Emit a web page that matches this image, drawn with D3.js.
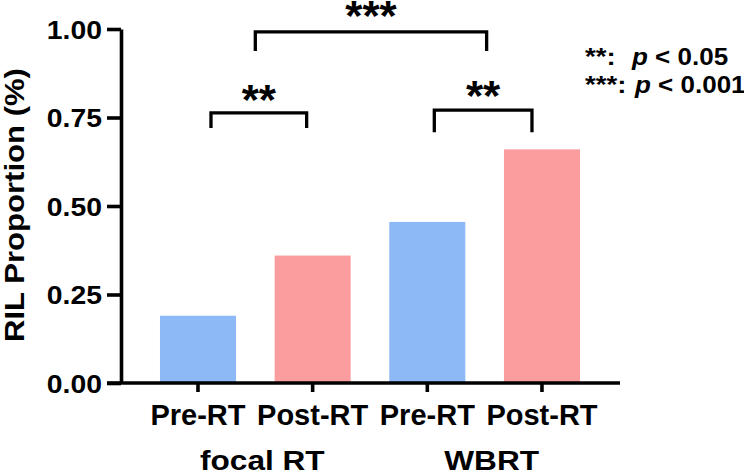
<!DOCTYPE html>
<html><head><meta charset="utf-8">
<script src="https://cdn.jsdelivr.net/npm/d3@7"></script>
<style>
html,body{margin:0;padding:0;background:#fff;}
text{font-family:"Liberation Sans",Arial,sans-serif;font-weight:bold;fill:#000;}
</style></head>
<body><svg id="c" width="744" height="475"></svg>
<script>
const categories = ["Pre-RT","Post-RT","Pre-RT ","Post-RT "];
const tickLabels = ["Pre-RT","Post-RT","Pre-RT","Post-RT"];
const groups = ["focal RT","WBRT"];
const values = [0.19, 0.36, 0.455, 0.66];
const barColors = ["#8dbaf6","#fb9c9e","#8dbaf6","#fb9c9e"];
const yTicks = [0, 0.25, 0.5, 0.75, 1.0];
// significance brackets (bar positions as category indices, heights in data units)
const bracketFrom = [0, 2, 0.5];
const bracketTo = [1, 3, 2.5];
const bracketLevel = [0.763, 0.771, 0.992];
const bracketLeg = [0.72, 0.708, 0.938];
const bracketLabel = ["**","**","***"];
const legendStars = ["**:","***:"];
const legendP = ["p < 0.05","p < 0.001"];

const svg = d3.select("#c");
const y = d3.scaleLinear().domain([0,1]).range([383,29]);
const x = d3.scaleBand().domain(categories).range([140.65,599.3]).paddingInner(0.337).paddingOuter(0.1685);
const cx = i => x(categories[0]) + x.bandwidth()/2 + i*x.step();

function stretch(sel, f){
  sel.each(function(){
    const L = this.getComputedTextLength();
    d3.select(this).attr("textLength", L*f).attr("lengthAdjust","spacingAndGlyphs");
  });
}

// bars
svg.selectAll("rect.bar").data(values).join("rect").attr("class","bar")
  .attr("x",(d,i)=>x(categories[i])).attr("width",x.bandwidth())
  .attr("y",d=>y(d)).attr("height",d=>y(0)-y(d))
  .attr("fill",(d,i)=>barColors[i]);

// y axis
const yAxis = d3.axisLeft(y).tickValues(yTicks).tickFormat(d3.format(".2f")).tickSize(14).tickSizeOuter(0).tickPadding(5);
const gy = svg.append("g").attr("transform","translate(121,0)").call(yAxis);
gy.select(".domain").attr("stroke","#000").attr("stroke-width",3.6);
gy.selectAll(".tick line").attr("stroke","#000").attr("stroke-width",3.6);
gy.selectAll(".tick text").style("font-size","26px").attr("dy","0.36em").call(stretch,1.09);

// x axis
const xAxis = d3.axisBottom(x).tickSize(9).tickSizeOuter(0).tickFormat((d,i)=>tickLabels[i]);
const gx = svg.append("g").attr("transform","translate(0,383)").call(xAxis);
gx.select(".domain").attr("d","M107,0H620").attr("stroke","#000").attr("stroke-width",3.6);
gx.selectAll(".tick line").attr("stroke","#000").attr("stroke-width",3.6);
gx.selectAll(".tick text").style("font-size","29px").attr("y",42).attr("dy",0);

// group labels
svg.selectAll("text.grp").data(groups).join("text").attr("class","grp")
  .attr("x",(d,i)=>(cx(2*i)+cx(2*i+1))/2+7).attr("y",470)
  .attr("text-anchor","middle").style("font-size","27px").text(d=>d).call(stretch,1.17);

// y title
svg.append("text").attr("transform","translate(24,205) rotate(-90)")
  .attr("text-anchor","middle").style("font-size","28px").text("RIL Proportion (%)").call(stretch,1.11);

// brackets
const insetL = [13, 7, 0], insetR = [-6, -10, 2], labelDy = [1, 0, -2];
bracketLabel.forEach((lab,k)=>{
  const x1 = cx(bracketFrom[k]) + insetL[k], x2 = cx(bracketTo[k]) + insetR[k];
  const yl = y(bracketLevel[k]), yg = y(bracketLeg[k]);
  svg.append("path").attr("d",`M${x1},${yg}V${yl}H${x2}V${yg}`)
    .attr("fill","none").attr("stroke","#000").attr("stroke-width",3.3);
  svg.append("text").attr("x",(x1+x2)/2).attr("y",yl+labelDy[k]).attr("text-anchor","middle")
    .style("font-size","42px").text(lab).call(stretch,1.05);
});

// legend
legendStars.forEach((s,i)=>{
  svg.append("text").attr("x",585).attr("y",65+i*28).style("font-size","23px").text(s).call(stretch,1.2);
  const t = svg.append("text").attr("x",i===0?632:635).attr("y",65+i*28).style("font-size","23px");
  t.append("tspan").style("font-style","italic").text(legendP[i].slice(0,1));
  t.append("tspan").text(legendP[i].slice(1));
  stretch(t,1.13);
});
</script></body></html>
